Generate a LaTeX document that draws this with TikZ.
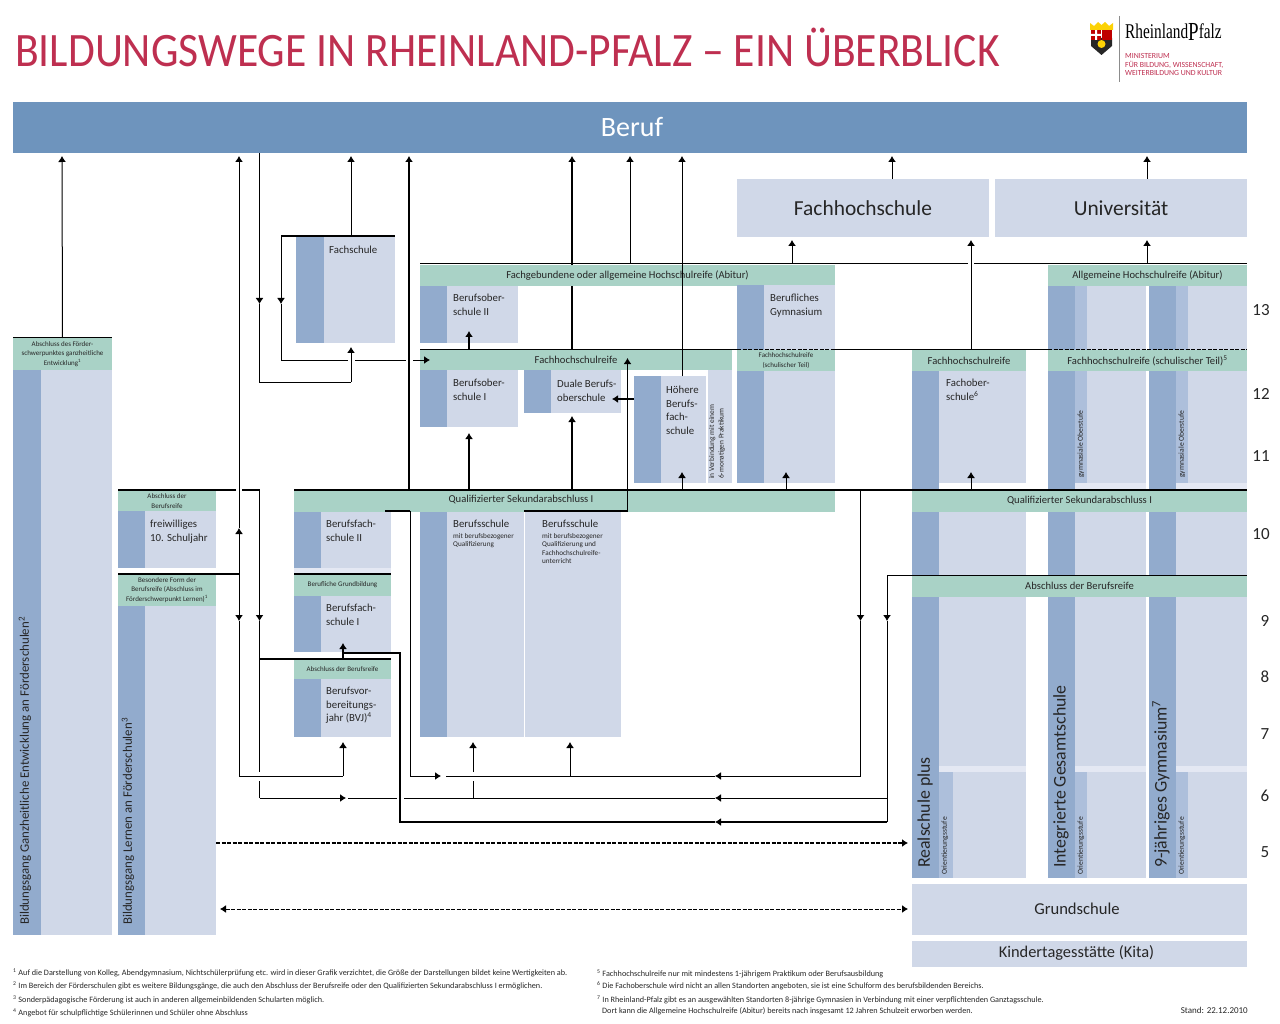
\documentclass[tikz,border=0pt]{standalone}
\usepackage{fontspec}
\setmainfont{Carlito}
\newfontfamily\logofont{Liberation Serif}
\usetikzlibrary{arrows.meta}
\definecolor{berufblue}{HTML}{6E94BD}
\definecolor{barblue}{HTML}{92ABCD}
\definecolor{midblue}{HTML}{ADBFDB}
\definecolor{paneblue}{HTML}{D0D8E8}
\definecolor{gapblue}{HTML}{E4E8F3}
\definecolor{bandgreen}{HTML}{A9D2C6}
\definecolor{titlered}{HTML}{BE2F50}
\tikzset{
	cell/.style 2 args={
		anchor=north west,
		inner sep=0pt,
		outer sep=0pt,
		minimum width=#1pt,
		minimum height=#2pt
	},
	barcell/.style={fill=barblue},
	midcell/.style={fill=midblue},
	panecell/.style={fill=paneblue},
	gapcell/.style={fill=gapblue},
	bandcell/.style={fill=bandgreen, align=center, text=black!85, font=\fontsize{10.6}{12}\selectfont},
	tinyband/.style={bandcell, font=\fontsize{7}{9.5}\selectfont},
	schoollabel/.style={anchor=north west, inner sep=0pt, align=left, text=black!85, font=\fontsize{10.8}{13.5}\selectfont},
	hugelabel/.style={panecell, text=black!85, font=\fontsize{21.4}{24}\selectfont},
	uplabel/.style={anchor=west, rotate=90, inner sep=0pt, text=black!85},
	tinyup/.style={uplabel, font=\fontsize{7.6}{8}\selectfont},
	longup/.style={uplabel, font=\fontsize{12.9}{14}\selectfont},
	schoolup/.style={uplabel, font=\fontsize{17.8}{19}\selectfont},
	yearlabel/.style={inner sep=0pt, text=black!85, font=\fontsize{17}{18}\selectfont},
	footlabel/.style={anchor=west, inner sep=0pt, text=black!85, font=\fontsize{8.2}{9}\selectfont},
	wire/.style={line width=1pt},
	wiremid/.style={line width=1.5pt},
	wirethick/.style={line width=2.2pt},
	densedash/.style={dash pattern=on 4pt off 1.5pt},
	>={Latex[length=6pt,width=8pt]}
}

\begin{document}
\begin{tikzpicture}[x=1pt,y=-1pt]
	\useasboundingbox (0,0) rectangle (1280,1024);

	% head
	\node[anchor=west, inner sep=0pt, text=titlered, font=\fontsize{48}{50}\selectfont] (maintitle) at (15,47) {\scalebox{0.908}[1]{BILDUNGSWEGE IN RHEINLAND-PFALZ – EIN ÜBERBLICK}};
	\fill[black!85] (1091,38) -- (1112,38) -- (1112,46) -- (1101.5,55) -- (1091,46) -- cycle;
	\fill[red!75!black] (1091,30) rectangle (1101,40);
	\fill[white] (1095,30) rectangle (1097,40) (1091,34) rectangle (1101,36);
	\fill[red!75!black] (1102,30) rectangle (1112,40);
	\fill[yellow!70!orange] (1090,30) -- (1090,23) -- (1094,26) -- (1098,22) -- (1101.5,25) -- (1105,22) -- (1109,26) -- (1113,23) -- (1113,30) -- cycle;
	\fill[yellow!70!orange] (1101.5,44) circle (4);
	\draw[black!45, line width=1pt] (1119,16) -- (1119,82);
	\node[anchor=west, inner sep=0pt, font=\logofont\fontsize{21}{22}\selectfont] (logoname) at (1125,32) {\scalebox{0.73}[1]{Rheinland\raisebox{-2pt}{\fontsize{26}{26}\selectfont P}falz}};
	\node[anchor=north west, inner sep=0pt, text=titlered, align=left, font=\fontsize{7.8}{8.8}\selectfont] (logotext) at (1125,53) {MINISTERIUM\\FÜR BILDUNG, WISSENSCHAFT,\\WEITERBILDUNG UND KULTUR};

	% top row
	\node[cell={1234}{51}, fill=berufblue] (beruf) at (13,102) {};
	\node[inner sep=0pt, text=white, font=\fontsize{28}{30}\selectfont] (berufText) at (632,127) {Beruf};
	\node[cell={252}{58}, hugelabel] (fhs) at (737,179) {Fachhochschule};
	\node[cell={252}{58}, hugelabel] (uni) at (995,179) {Universität};

	% special schools
	\node[cell={99}{32}, tinyband] (fsgHead) at (13,338) {Abschluss des Förder-\\schwerpunktes ganzheitliche\\Entwicklung\textsuperscript{1}};
	\node[cell={28}{565}, barcell] (fsgBar) at (13,370) {};
	\node[cell={71}{565}, panecell] (fsgPane) at (41,370) {};
	\node[longup] (fsgText) at (25,925) {Bildungsgang Ganzheitliche Entwicklung an Förderschulen\textsuperscript{2}};
	\node[cell={98}{22}, tinyband] (fsjHead) at (118,490) {Abschluss der\\Berufsreife};
	\node[cell={27}{57}, barcell] (fsjBar) at (118,511) {};
	\node[cell={71}{57}, panecell] (fsjPane) at (145,511) {};
	\node[schoollabel] (fsjText) at (150,520) {freiwilliges\\10. Schuljahr};
	\node[cell={98}{32}, tinyband] (lernHead) at (118,574) {Besondere Form der\\Berufsreife (Abschluss im\\Förderschwerpunkt Lernen)\textsuperscript{1}};
	\node[cell={27}{329}, barcell] (lernBar) at (118,606) {};
	\node[cell={71}{329}, panecell] (lernPane) at (145,606) {};
	\node[longup] (lernText) at (128,925) {Bildungsgang Lernen an Förderschulen\textsuperscript{3}};

	% vocational, left
	\node[cell={28}{107}, barcell] (fsBar) at (296,236) {};
	\node[cell={71}{107}, panecell] (fsPane) at (324,236) {};
	\node[schoollabel] (fsText) at (329,246) {Fachschule};
	\node[cell={27}{56}, barcell] (bf2Bar) at (294,512) {};
	\node[cell={70}{56}, panecell] (bf2Pane) at (321,512) {};
	\node[schoollabel] (bf2Text) at (326,520) {Berufsfach-\\schule II};
	\node[cell={97}{6}, gapcell] (bf2Gap) at (294,568) {};
	\node[cell={97}{22}, tinyband] (grundHead) at (294,574) {Berufliche Grundbildung};
	\node[cell={27}{56}, barcell] (bf1Bar) at (294,596) {};
	\node[cell={70}{56}, panecell] (bf1Pane) at (321,596) {};
	\node[schoollabel] (bf1Text) at (326,604) {Berufsfach-\\schule I};
	\node[cell={97}{20}, tinyband] (bvjHead) at (294,659) {Abschluss der Berufsreife};
	\node[cell={27}{58}, barcell] (bvjBar) at (294,679) {};
	\node[cell={70}{58}, panecell] (bvjPane) at (321,679) {};
	\node[schoollabel] (bvjText) at (326,687) {Berufsvor-\\bereitungs-\\jahr (BVJ)\textsuperscript{4}};

	% vocational, middle
	\node[cell={415}{21}, bandcell] (fgbHead) at (420,265) {Fachgebundene oder allgemeine Hochschulreife (Abitur)};
	\node[cell={27}{57}, barcell] (bos2Bar) at (420,286) {};
	\node[cell={71}{57}, panecell] (bos2Pane) at (447,286) {};
	\node[schoollabel] (bos2Text) at (453,294) {Berufsober-\\schule II};
	\node[cell={312}{20}, bandcell] (fhrHead) at (420,350) {Fachhochschulreife};
	\node[cell={27}{57}, barcell] (bos1Bar) at (420,370) {};
	\node[cell={71}{57}, panecell] (bos1Pane) at (447,370) {};
	\node[schoollabel] (bos1Text) at (453,379) {Berufsober-\\schule I};
	\node[cell={27}{43}, barcell] (dbosBar) at (524,370) {};
	\node[cell={70}{43}, panecell] (dbosPane) at (551,370) {};
	\node[schoollabel] (dbosText) at (557,380) {Duale Berufs-\\oberschule};
	\node[cell={27}{107}, barcell] (hbfBar) at (634,376) {};
	\node[cell={45}{107}, panecell] (hbfPane) at (661,376) {};
	\node[schoollabel] (hbfText) at (666,386) {Höhere\\Berufs-\\fach-\\schule};
	\node[cell={24}{113}, panecell] (hbfNote) at (708,370) {};
	\node[anchor=west, rotate=90, inner sep=0pt, align=left, text=black!85, font=\fontsize{7.4}{9.5}\selectfont] (hbfNoteText) at (717,479) {in Verbindung mit einem\\6-monatigen Praktikum};
	\node[cell={27}{65}, barcell] (bgyBar) at (737,285) {};
	\node[cell={71}{65}, panecell] (bgyPane) at (764,285) {};
	\node[schoollabel] (bgyText) at (770,294) {Berufliches\\Gymnasium};
	\node[cell={98}{21}, tinyband] (bgyHead) at (737,350) {Fachhochschulreife\\(schulischer Teil)};
	\node[cell={27}{112}, barcell] (bgyLowBar) at (737,371) {};
	\node[cell={71}{112}, panecell] (bgyLowPane) at (764,371) {};
	\node[cell={541}{22}, fill=bandgreen] (qualLeft) at (294,490) {};
	\node[inner sep=0pt, text=black!85, font=\fontsize{10.6}{12}\selectfont] (qualLeftText) at (521,500) {Qualifizierter Sekundarabschluss I};
	\node[cell={27}{225}, barcell] (bsBar) at (420,512) {};
	\node[cell={77}{225}, panecell] (bsPane) at (447,512) {};
	\node[cell={96}{225}, panecell] (bsfPane) at (525,512) {};
	\node[schoollabel] (bsText) at (453,520) {Berufsschule\\[-3pt]{\fontsize{7.2}{8}\selectfont mit berufsbezogener}\\[-5pt]{\fontsize{7.2}{8}\selectfont Qualifizierung}};
	\node[schoollabel] (bsfText) at (542,520) {Berufsschule\\[-3pt]{\fontsize{7.2}{8}\selectfont mit berufsbezogener}\\[-5pt]{\fontsize{7.2}{8}\selectfont Qualifizierung und}\\[-5pt]{\fontsize{7.2}{8}\selectfont Fachhochschulreife-}\\[-5pt]{\fontsize{7.2}{8}\selectfont unterricht}};

	% realschule plus
	\node[cell={114}{21}, bandcell] (fosHead) at (912,350) {Fachhochschulreife};
	\node[cell={27}{119}, barcell] (fosBar) at (912,371) {};
	\node[cell={87}{112}, panecell] (fosPane) at (939,371) {};
	\node[schoollabel] (fosText) at (946,379) {Fachober-\\schule\textsuperscript{6}};
	\node[cell={27}{63}, barcell] (rsTenBar) at (912,512) {};
	\node[cell={87}{63}, panecell] (rsTenPane) at (939,512) {};
	\node[cell={27}{281}, barcell] (rsBar) at (912,597) {};
	\node[cell={87}{169}, panecell] (rsPane) at (939,597) {};
	\node[cell={87}{6}, gapcell] (rsGap) at (939,766) {};
	\node[cell={14}{106}, midcell] (rsOrient) at (939,772) {};
	\node[cell={73}{106}, panecell] (rsLowPane) at (953,772) {};

	% the two long columns
	\foreach \col/\x in {igs/1048,gym/1149} {
		\node[cell={27}{64}, barcell] (\col-barA) at (\x,286) {};
		\node[cell={12}{64}, midcell] (\col-midA) at (\x+27,286) {};
		\node[cell={59}{64}, panecell] (\col-paneA) at (\x+39,286) {};
		\node[cell={27}{119}, barcell] (\col-barB) at (\x,371) {};
		\node[cell={12}{112}, midcell] (\col-midB) at (\x+27,371) {};
		\node[cell={59}{112}, panecell] (\col-paneB) at (\x+39,371) {};
		\node[cell={71}{7}, gapcell] (\col-gapB) at (\x+27,483) {};
		\node[cell={27}{63}, barcell] (\col-barC) at (\x,512) {};
		\node[cell={71}{63}, panecell] (\col-paneC) at (\x+27,512) {};
		\node[cell={27}{281}, barcell] (\col-barD) at (\x,597) {};
		\node[cell={71}{169}, panecell] (\col-paneD) at (\x+27,597) {};
		\node[cell={71}{6}, gapcell] (\col-gapD) at (\x+27,766) {};
		\node[cell={12}{106}, midcell] (\col-midE) at (\x+27,772) {};
		\node[cell={59}{106}, panecell] (\col-paneE) at (\x+39,772) {};
		\node[tinyup] (\col-oberstufe) at (\x+33,478) {gymnasiale Oberstufe};
		\node[tinyup] (\col-orient) at (\x+33,875) {Orientierungsstufe};
	}
	\node[tinyup] (rsOrientText) at (945,875) {Orientierungsstufe};
	\node[schoolup] (rsText) at (925,868) {Realschule plus};
	\node[schoolup] (igsText) at (1061,868) {Integrierte Gesamtschule};
	\node[schoolup] (gymText) at (1161,868) {9-jähriges Gymnasium\textsuperscript{7}};

	% right bands
	\node[cell={199}{21}, bandcell] (ahrHead) at (1048,265) {Allgemeine Hochschulreife (Abitur)};
	\node[cell={199}{21}, bandcell] (fhrRight) at (1048,350) {Fachhochschulreife (schulischer Teil)\textsuperscript{5}};
	\node[cell={335}{22}, bandcell] (qualRight) at (912,490) {Qualifizierter Sekundarabschluss I};
	\node[cell={335}{22}, bandcell] (berufsreife) at (912,575) {Abschluss der Berufsreife};
	\node[cell={335}{51}, panecell] (grundschule) at (912,884) {};
	\node[inner sep=0pt, text=black!85, font=\fontsize{16.6}{18}\selectfont] (grundText) at (1077,909) {Grundschule};
	\node[cell={335}{26}, panecell] (kita) at (912,941) {};
	\node[inner sep=0pt, text=black!85, font=\fontsize{16.4}{18}\selectfont] (kitaText) at (1076.5,953) {Kindertagesstätte (Kita)};

	% school years
	\foreach \yr/\xx/\yy in {13/1261/310,12/1261/394,11/1261/456,10/1261/534,9/1265/621,8/1265/677,7/1265/734,6/1265/796,5/1265/852} {
		\node[yearlabel] (year\yr) at (\xx,\yy) {\yr};
	}

	% junctions
	\coordinate (aTop) at (239,156); \coordinate (aUp) at (239,528); \coordinate (aJoin) at (239,574);
	\coordinate (aDown) at (239,621); \coordinate (aFoot) at (239,776); \coordinate (aEnd) at (343,776);
	\coordinate (bvjIn) at (343,742);
	\coordinate (bTop) at (259.5,153); \coordinate (bDown) at (259.5,304); \coordinate (bFoot) at (259.5,382);
	\coordinate (bEnd) at (351,382); \coordinate (fsIn) at (351,347);
	\coordinate (cTop) at (281,236); \coordinate (cDown) at (281,304); \coordinate (cFoot) at (281,360);
	\coordinate (cGapA) at (348,360); \coordinate (cGapB) at (355,360); \coordinate (cGapC) at (406,360);
	\coordinate (cGapD) at (413,360); \coordinate (fhrIn) at (430,360);
	\coordinate (fsOutA) at (351,236); \coordinate (fsOutB) at (351,156);
	\coordinate (dTop) at (118,490); \coordinate (dGapA) at (236,490); \coordinate (dGapB) at (242,490);
	\coordinate (dCorner) at (259.5,490); \coordinate (dDown) at (259.5,621); \coordinate (dGapC) at (259.5,772);
	\coordinate (dGapD) at (259.5,781); \coordinate (dFoot) at (259.5,798); \coordinate (dRight) at (346,798);
	\coordinate (dGapE) at (348,798); \coordinate (dGapF) at (397,798); \coordinate (dGapG) at (404,798);
	\coordinate (eTop) at (860.5,490); \coordinate (eDown) at (860.5,621); \coordinate (eFoot) at (860.5,776);
	\coordinate (eLeft) at (715,776); \coordinate (eEnd) at (446,776);
	\coordinate (fStart) at (385,511); \coordinate (fCorner) at (410,511); \coordinate (fFoot) at (410,776);
	\coordinate (fRight) at (441,776);
	\coordinate (gTop) at (887,575); \coordinate (gDown) at (887,621); \coordinate (gMid) at (887,798);
	\coordinate (gFoot) at (887,822); \coordinate (gLeft) at (715,798); \coordinate (gEnd) at (715,822);
	\coordinate (hCorner) at (400,822); \coordinate (hBend) at (400,653); \coordinate (hEnd) at (343,653);
	\coordinate (hStem) at (343,659); \coordinate (bf1In) at (343,643);
	\coordinate (bvjLineA) at (260,659); \coordinate (bvjLineB) at (391,659);
	\coordinate (bsA) at (473,798); \coordinate (bsB) at (473,781); \coordinate (bsC) at (473,772); \coordinate (bsD) at (473,742);
	\coordinate (bsfA) at (570,776); \coordinate (bsfB) at (570,742);
	\coordinate (dashA) at (216,843); \coordinate (dashB) at (908,843);
	\coordinate (kitaA) at (220,909); \coordinate (kitaB) at (908,909);
	\coordinate (qualL) at (294,490); \coordinate (qualR) at (1247,490);
	\coordinate (topA) at (420,264); \coordinate (topB) at (968,264); \coordinate (topC) at (974,264); \coordinate (topD) at (1247,264);
	\coordinate (fhrA) at (420,350); \coordinate (fhrB) at (737,350); \coordinate (fhrC) at (835,350); \coordinate (fhrD) at (1048,350); \coordinate (fhrE) at (1247,350);
	\coordinate (reifeL) at (887,575); \coordinate (reifeR) at (1247,575);
	\coordinate (lernTop) at (118,574); \coordinate (grundA) at (294,574); \coordinate (grundB) at (391,574);
	\coordinate (fsA) at (281,236); \coordinate (fsB) at (395,236);
	\coordinate (fdA) at (524,511); \coordinate (fdB) at (627.5,511); \coordinate (fdC) at (627.5,358);

	% plain connectors
	\foreach \from/\to in {
		dGapD/dFoot, dGapE/dGapF,
		fsgHead.north west/fsgHead.north east, gLeft/dGapG, eLeft/eEnd} {
		\draw[wire] (\from) -- (\to);
	}
	\draw[wire] (aDown) -- (aFoot) -- (aEnd);
	\draw[wire] (bDown) -- (bFoot) -- (bEnd);
	\draw[wire] (cDown) -- (cFoot) -- (cGapA);
	\draw[wire] (cGapB) -- (cGapC);
	\draw[wire] (dDown) -- (dGapC);
	\draw[wire] (eDown) -- (eFoot);
	\draw[wire] (gDown) -- (gFoot);
	\draw[wire] (topA) -- (topB);
	\draw[wire] (topC) -- (topD);
	\draw[wire] (fhrA) -- (fhrB);
	\draw[wire, densedash] (fhrB) -- (fhrC);
	\draw[wire] (fhrC) -- (fhrD);
	\draw[wire, densedash] (fhrD) -- (fhrE);
	\draw[wire] (reifeL) -- (reifeR);
	\draw[wire] (bsA) -- (bsB);

	% thin arrows
	\foreach \from/\to in {
		fsgHead.north/{62,156}, aJoin/aUp, aUp/aTop, aJoin/aDown, aEnd/bvjIn, bTop/bDown, bEnd/fsIn,
		cTop/cDown, cGapD/fhrIn, fsOutA/fsOutB, dCorner/dDown, dFoot/dRight, gMid/gLeft, eTop/eDown, eFoot/eLeft,
		fFoot/fRight, gTop/gDown, bsC/bsD, bsfA/bsfB,
		{630,264}/{630,156}, {682,376}/{682,156}, {682,490}/{682,472}, {786,490}/{786,472},
		{971,490}/{971,472}, {971,350}/{971,240}, {792,264}/{792,240}, {1147,264}/{1147,240},
		{892,179}/{892,156}, {1147,179}/{1147,156}} {
		\draw[wire, ->] (\from) -- (\to);
	}
	\draw[wire] (fCorner) -- (fFoot);
	\draw[wiremid] (fStart) -- (fCorner);

	% stronger lines
	\draw[wirethick] (dTop) -- (dGapA);
	\draw[wirethick] (dGapB) -- (dCorner);
	\draw[wiremid] (lernTop) -- (aJoin);
	\draw[wiremid] (grundA) -- (grundB);
	\draw[wiremid] (fsA) -- (fsB);
	\draw[wirethick] (qualL) -- (qualR);
	\draw[wirethick] (bvjLineA) -- (bvjLineB);
	\draw[wirethick, ->] (gFoot) -- (gEnd);
	\draw[wirethick] (gEnd) -- (hCorner) -- (hBend) -- (hEnd);
	\draw[wirethick, ->] (hStem) -- (bf1In);
	\draw[wiremid, ->] (fdA) -- (fdB) -- (fdC);
	\foreach \xpos/\ya/\yb in {409/490/156,469/490/433,469/350/331,572/490/416,572/265/156} {
		\draw[wirethick, ->] (\xpos,\ya) -- (\xpos,\yb);
	}
	\draw[wirethick] (fhrHead.north -| 572,0) -- (fgbHead.south -| 572,0);
	\draw[wirethick, ->] (hbfBar.west |- 0,399) -- (612,399);

	% dashed runs
	\draw[wirethick, densedash, ->] (dashA) -- (dashB);
	\draw[wire, densedash, <->] (kitaA) -- (kitaB);

	% notes
	\node[footlabel] (noteA) at (13,973) {\textsuperscript{1} Auf die Darstellung von Kolleg, Abendgymnasium, Nichtschülerprüfung etc. wird in dieser Grafik verzichtet, die Größe der Darstellungen bildet keine Wertigkeiten ab.};
	\node[footlabel] (noteB) at (13,986) {\textsuperscript{2} Im Bereich der Förderschulen gibt es weitere Bildungsgänge, die auch den Abschluss der Berufsreife oder den Qualifizierten Sekundarabschluss I ermöglichen.};
	\node[footlabel] (noteC) at (13,1000) {\textsuperscript{3} Sonderpädagogische Förderung ist auch in anderen allgemeinbildenden Schularten möglich.};
	\node[footlabel] (noteD) at (13,1013) {\textsuperscript{4} Angebot für schulpflichtige Schülerinnen und Schüler ohne Abschluss};
	\node[footlabel] (noteE) at (597,974) {\textsuperscript{5} Fachhochschulreife nur mit mindestens 1-jährigem Praktikum oder Berufsausbildung};
	\node[footlabel] (noteF) at (597,986) {\textsuperscript{6} Die Fachoberschule wird nicht an allen Standorten angeboten, sie ist eine Schulform des berufsbildenden Bereichs.};
	\node[footlabel] (noteG) at (597,1000) {\textsuperscript{7} In Rheinland-Pfalz gibt es an ausgewählten Standorten 8-jährige Gymnasien in Verbindung mit einer verpflichtenden Ganztagsschule.};
	\node[footlabel] (noteH) at (602,1011) {Dort kann die Allgemeine Hochschulreife (Abitur) bereits nach insgesamt 12 Jahren Schulzeit erworben werden.};
	\node[footlabel, anchor=east, font=\fontsize{9}{10}\selectfont] (stand) at (1248,1010) {Stand: 22.12.2010};
\end{tikzpicture}
\end{document}
